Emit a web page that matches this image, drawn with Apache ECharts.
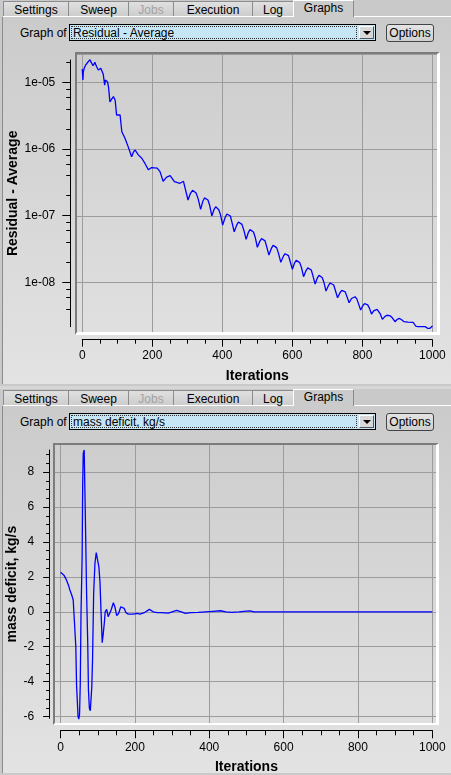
<!DOCTYPE html>
<html>
<head>
<meta charset="utf-8">
<script src="https://cdn.jsdelivr.net/npm/echarts@6/dist/echarts.min.js"></script>
<style>
  body { margin: 0; background: #d6d6d6; font-family: "Liberation Sans", Arial, sans-serif; font-size: 12px; color: #000; }
  #page { position: relative; width: 451px; height: 775px; overflow: hidden; }
  .panel { position: absolute; left: 0; width: 451px; height: 386px; background: #c9c9c9; }
  .body { position: absolute; left: 2px; top: 16px; right: 0; bottom: 2px; border-left: 1px solid #8c8c8c; border-top: 1px solid #fff;
          background: linear-gradient(#cbcbcb, #e3e3e3); }
  .tab { position: absolute; top: 1px; height: 15px; box-sizing: border-box; border: 1px solid #8c8c8c; border-bottom: none;
         background: linear-gradient(#e0e0e0, #cdcdcd); text-align: center; line-height: 16px; }
  .tab.dim { color: #a3a3a3; }
  .tab.sel { top: 0; height: 17px; background: #cbcbcb; line-height: 15px; border-color: #fff #8c8c8c #fff #fff; z-index: 2; }
  .lbl { position: absolute; left: 20px; top: 26px; }
  .combo { position: absolute; left: 69px; top: 24px; width: 307px; height: 17px; box-sizing: border-box; border: 1px solid #000;
           background: #c6e6f6; }
  .combo span { position: absolute; left: 3px; top: 1px; }
  .combo .focus { position: absolute; left: 1px; top: 1px; right: 18px; bottom: 1px; border: 1px dotted #333; }
  .arrow { position: absolute; right: 1px; top: 1px; width: 15px; height: 13px; box-sizing: border-box; background: #d8d8d8;
           border: 1px solid; border-color: #fff #555 #555 #fff; }
  .arrow:after { content: ""; position: absolute; left: 3px; top: 4px; border-left: 4px solid transparent; border-right: 4px solid transparent; border-top: 4px solid #000; }
  .btn { position: absolute; left: 386px; top: 24px; width: 48px; height: 18px; box-sizing: border-box; border: 1px solid #444;
         border-radius: 3px; background: linear-gradient(#e4e4e4, #cfcfcf); text-align: center; line-height: 16px; }
  .frame { position: absolute; box-sizing: border-box; border-style: solid; border-color: #7c7c7c #fff #fff #7c7c7c; z-index: 3; pointer-events: none; }
  #chart { position: absolute; left: 0; top: 0; width: 451px; height: 775px; z-index: 2; }
</style>
</head>
<body>
<div id="page">
  <div class="panel" style="top:0">
    <div class="body"></div>
    <div class="tab" style="left:3px;width:66px">Settings</div>
    <div class="tab" style="left:68px;width:61px">Sweep</div>
    <div class="tab dim" style="left:128px;width:46px">Jobs</div>
    <div class="tab" style="left:173px;width:80px">Execution</div>
    <div class="tab" style="left:252px;width:42px">Log</div>
    <div class="tab sel" style="left:293px;width:61px">Graphs</div>
    <div class="lbl">Graph of</div>
    <div class="combo"><div class="focus"></div><span>Residual - Average</span><div class="arrow"></div></div>
    <div class="btn">Options</div>
  </div>
  <div class="panel" style="top:389px">
    <div class="body"></div>
    <div class="tab" style="left:3px;width:66px">Settings</div>
    <div class="tab" style="left:68px;width:61px">Sweep</div>
    <div class="tab dim" style="left:128px;width:46px">Jobs</div>
    <div class="tab" style="left:173px;width:80px">Execution</div>
    <div class="tab" style="left:252px;width:42px">Log</div>
    <div class="tab sel" style="left:293px;width:61px">Graphs</div>
    <div class="lbl">Graph of</div>
    <div class="combo"><div class="focus"></div><span>mass deficit, kg/s</span><div class="arrow"></div></div>
    <div class="btn">Options</div>
  </div>
  <div id="chart"></div>
  <div class="frame" style="left:75px;top:52px;width:365px;height:283px;border-width:2px 3px 3px 2px"></div>
  <div class="frame" style="left:53px;top:443px;width:386px;height:282px;border-width:2px 3px 2px 2px"></div>
</div>

<script>
// residual - average (log axis)
const residualIter = [
  0, 2, 3, 6, 10, 17, 22, 27, 31, 36, 41, 46, 50, 53, 57, 60, 64, 66, 68, 72,
  75, 79, 84, 89, 94, 98, 103, 108, 113, 117, 122, 131, 141, 146, 151, 160, 170, 179, 189, 198,
  214, 222, 231, 241, 251, 263, 279, 289, 302,
  309, 315, 320, 325, 331, 338,
  344, 349, 354, 359, 364, 370,
  376, 381, 386, 390, 395, 401,
  408, 413, 418, 423, 427, 434,
  441, 446, 451, 456, 461, 468,
  474, 479, 484, 489, 494, 500,
  507, 512, 517, 522, 526, 533,
  540, 545, 550, 555, 560, 567,
  574, 579, 584, 589, 593, 600,
  606, 611, 616, 621, 626, 632,
  639, 644, 649, 654, 658, 665,
  671, 676, 681, 685, 690, 696,
  703, 708, 713, 718, 722, 729,
  736, 741, 746, 751, 755, 762,
  769, 774, 779, 784, 788, 795,
  801, 806, 811, 815, 820, 826,
  832, 837, 842, 846, 851, 857,
  864, 870, 875, 880, 886, 893,
  899, 905, 911, 919, 930, 945, 952, 958, 979, 986, 993, 997, 1000
];
const residualValue = [
  1.58e-5, 1.08e-5, 1.43e-5, 1.65e-5, 1.82e-5, 2.03e-5, 2.18e-5, 1.92e-5, 1.77e-5, 1.99e-5,
  1.71e-5, 1.53e-5, 1.50e-5, 1.62e-5, 1.44e-5, 1.32e-5, 9.1e-6, 1.08e-5, 1.15e-5, 1.02e-5,
  8.5e-6, 5.1e-6, 5.6e-6, 6.1e-6, 5.4e-6, 3.24e-6, 3.05e-6, 3.24e-6, 1.82e-6, 1.78e-6,
  1.45e-6, 1.09e-6, 7.7e-7, 9.0e-7, 9.7e-7, 8.2e-7, 7.3e-7, 6.1e-7, 4.9e-7, 5.3e-7,
  5.2e-7, 4.6e-7, 3.3e-7, 3.8e-7, 4.0e-7, 3.25e-7, 3.08e-7, 3.3e-7, 1.73e-7,
  2.18e-7, 2.42e-7, 2.44e-7, 2.20e-7, 1.80e-7, 1.25e-7,
  1.64e-7, 1.86e-7, 1.90e-7, 1.73e-7, 1.43e-7, 1.00e-7,
  1.24e-7, 1.37e-7, 1.37e-7, 1.24e-7, 1.03e-7, 7.31e-8,
  9.47e-8, 1.07e-7, 1.09e-7, 9.98e-8, 8.24e-8, 5.80e-8,
  7.28e-8, 8.09e-8, 8.19e-8, 7.47e-8, 6.22e-8, 4.46e-8,
  5.61e-8, 6.23e-8, 6.30e-8, 5.74e-8, 4.76e-8, 3.39e-8,
  4.17e-8, 4.58e-8, 4.62e-8, 4.23e-8, 3.56e-8, 2.60e-8,
  3.26e-8, 3.62e-8, 3.67e-8, 3.35e-8, 2.80e-8, 2.02e-8,
  2.48e-8, 2.72e-8, 2.75e-8, 2.54e-8, 2.15e-8, 1.59e-8,
  1.96e-8, 2.17e-8, 2.19e-8, 2.00e-8, 1.69e-8, 1.23e-8,
  1.52e-8, 1.67e-8, 1.69e-8, 1.55e-8, 1.31e-8, 9.56e-9,
  1.17e-8, 1.29e-8, 1.31e-8, 1.20e-8, 1.02e-8, 7.51e-9,
  9.08e-9, 9.91e-9, 1.00e-8, 9.24e-9, 7.91e-9, 5.96e-9,
  7.08e-9, 7.68e-9, 7.77e-9, 7.29e-9, 6.39e-9, 5.02e-9,
  5.80e-9, 6.18e-9, 6.17e-9, 5.73e-9, 4.99e-9, 3.90e-9,
  4.53e-9, 4.86e-9, 4.92e-9, 4.66e-9, 4.17e-9, 3.40e-9,
  3.80e-9, 4.00e-9, 4.00e-9, 3.78e-9, 3.41e-9, 2.83e-9,
  3.11e-9, 3.26e-9, 3.29e-9, 3.18e-9, 2.96e-9, 2.61e-9,
  2.81e-9, 2.93e-9, 2.81e-9, 2.61e-9, 2.58e-9, 2.55e-9, 2.25e-9, 2.20e-9, 2.20e-9, 2.08e-9, 2.08e-9, 2.21e-9, 2.25e-9
];
const residualTicks = [1e-8, 1e-7, 1e-6, 1e-5];
const residualTickLabels = ['1e-08', '1e-07', '1e-06', '1e-05'];
const residualMinorTicks = [4e-9, 6e-9, 8e-9, 2e-8, 4e-8, 6e-8, 8e-8, 2e-7, 4e-7, 6e-7, 8e-7,
  2e-6, 4e-6, 6e-6, 8e-6, 2e-5];

// mass deficit, kg/s
const massIter = [
  0, 5, 9, 15, 21, 25, 30, 34, 37, 41, 43, 47, 49, 51, 53, 55, 58, 59.5, 61, 63.5,
  66.5, 70, 73, 75, 77.5, 80, 82, 84, 86, 89, 92.5, 96, 100, 103, 106, 109, 112, 115, 118, 120,
  124, 128, 133, 136, 142, 146, 151, 156, 162, 166, 171, 176, 182, 196, 206, 214, 227, 239, 249, 260,
  270, 290, 300, 312, 325, 336, 350, 370, 390, 410, 430, 445, 460, 480, 500, 510, 520, 1000
];
const massValue = [
  2.26, 2.2, 2.1, 1.86, 1.54, 1.25, 0.96, 0.68, -0.47, -2.0, -4.2, -6.0, -6.15, -5.9, -4.1, -0.1, 3.16, 7.27, 9.08, 9.27,
  5.64, 1.06, -1.71, -4.48, -5.53, -5.67, -5.63, -4.29, -2.76, 1.06, 2.78, 3.39, 3.35, 2.58, 1.72, -0.09, -1.77, -1.23, -0.57, 0.0,
  0.14, -0.28, -0.28, 0.1, 0.52, 0.29, -0.22, -0.1, 0.29, 0.39, 0.2, -0.05, -0.13, -0.13, -0.09, -0.13, -0.03, 0.14, 0.0, -0.05,
  -0.05, -0.08, 0.0, 0.08, 0.0, -0.09, -0.05, -0.03, 0.0, 0.03, 0.06, 0.0, -0.03, 0.0, 0.04, 0.05, 0.0, 0.0
];
const massTicks = [-6, -4, -2, 0, 2, 4, 6, 8];
const massMinorTicks = [-5.5, -5, -4.5, -3.5, -3, -2.5, -1.5, -1, -0.5, 0.5, 1, 1.5, 2.5, 3, 3.5, 4.5, 5, 5.5, 6.5, 7, 7.5, 8.5, 9];
const iterTicks = [0, 200, 400, 600, 800, 1000];

const font = 'Liberation Sans';
const black = '#000';
const gridGray = '#9c9c9c';

const chart = echarts.init(document.getElementById('chart'));

function hiddenX (grid, min, max) {
  return {
    gridIndex: grid, type: 'value', min: min, max: max,
    axisLine: { show: false, onZero: false }, axisLabel: { show: false },
    axisTick: { show: false, customValues: iterTicks },
    splitLine: { show: true, lineStyle: { color: gridGray, width: 1 } }
  };
}
function visibleX (grid, offset, tickLen, minorLen, labelMargin, nameGap) {
  return {
    gridIndex: grid, type: 'value', position: 'bottom', min: 0, max: 1000, interval: 200, offset: offset,
    axisLine: { show: true, onZero: false, lineStyle: { color: black, width: 1 } },
    axisTick: { show: true, length: tickLen, lineStyle: { color: black } },
    minorTick: { show: true, splitNumber: 4, length: minorLen, lineStyle: { color: black } },
    axisLabel: {
      customValues: iterTicks, color: black, fontFamily: font, fontSize: 12, margin: labelMargin,
      formatter: v => String(v)
    },
    splitLine: { show: false },
    name: 'Iterations', nameLocation: 'middle', nameGap: nameGap, nameMoveOverlap: false,
    nameTextStyle: { color: black, fontFamily: font, fontSize: 14, fontWeight: 'bold' }
  };
}

chart.setOption({
  animation: false,
  grid: [
    { left: 77, top: 54, width: 360, height: 278, outerBoundsMode: 'none' },
    { left: 82.25, top: 60, width: 350.2, height: 266.7, outerBoundsMode: 'none' },
    { left: 55, top: 445, width: 381, height: 278, outerBoundsMode: 'none' },
    { left: 60.6, top: 450, width: 371.7, height: 268.3, outerBoundsMode: 'none' }
  ],
  xAxis: [
    hiddenX(0, -15, 1013),
    visibleX(1, 13, 7, 4, 10, 29),
    hiddenX(2, -15, 1010),
    visibleX(3, 12, 8, 5, 11, 30)
  ],
  yAxis: [
    {
      gridIndex: 0, type: 'log', logBase: 10, min: 1.83e-9, max: 2.653e-5,
      axisLine: { show: false, onZero: false }, axisLabel: { show: false }, axisTick: { show: false },
      splitLine: { show: true, lineStyle: { color: gridGray, width: 1 } }
    },
    {
      gridIndex: 1, type: 'value', position: 'left', min: -8.663, max: -4.666, offset: 12,
      axisLine: { show: true, onZero: false, lineStyle: { color: black } },
      axisTick: { show: true, length: 8, customValues: residualTicks.map(Math.log10), lineStyle: { color: black } },
      axisLabel: {
        customValues: residualTicks.map(Math.log10), color: black, fontFamily: font, fontSize: 12, margin: 15,
        formatter: function (v) {
          const i = residualTicks.findIndex(t => Math.abs(Math.log10(t) - v) < 1e-6);
          return i >= 0 ? residualTickLabels[i] : '';
        }
      },
      splitLine: { show: false },
      name: 'Residual - Average', nameLocation: 'middle', nameGap: 50, nameMoveOverlap: false,
      nameTextStyle: { color: black, fontFamily: font, fontSize: 14, fontWeight: 'bold' }
    },
    {
      gridIndex: 1, type: 'value', position: 'left', min: -8.663, max: -4.666, offset: 12,
      axisLine: { show: false, onZero: false },
      axisTick: { show: true, length: 4, customValues: residualMinorTicks.map(Math.log10), lineStyle: { color: black } },
      axisLabel: { show: false }, splitLine: { show: false }
    },
    {
      gridIndex: 2, type: 'value', min: -6.372, max: 9.559,
      axisLine: { show: false, onZero: false }, axisLabel: { show: false },
      axisTick: { show: false, customValues: massTicks },
      splitLine: { show: true, lineStyle: { color: gridGray, width: 1 } }
    },
    {
      gridIndex: 3, type: 'value', position: 'left', min: -6.1, max: 9.27, offset: 11.5,
      axisLine: { show: true, onZero: false, lineStyle: { color: black } },
      axisTick: { show: true, length: 6, customValues: massTicks, lineStyle: { color: black } },
      axisLabel: { customValues: massTicks, color: black, fontFamily: font, fontSize: 12, margin: 15 },
      splitLine: { show: false },
      name: 'mass deficit, kg/s', nameLocation: 'middle', nameGap: 30, nameMoveOverlap: false,
      nameTextStyle: { color: black, fontFamily: font, fontSize: 14, fontWeight: 'bold' }
    },
    {
      gridIndex: 3, type: 'value', position: 'left', min: -6.1, max: 9.27, offset: 11.5,
      axisLine: { show: false, onZero: false },
      axisTick: { show: true, length: 3, customValues: massMinorTicks, lineStyle: { color: black } },
      axisLabel: { show: false }, splitLine: { show: false }
    }
  ],
  series: [
    {
      type: 'line', xAxisIndex: 0, yAxisIndex: 0, showSymbol: false, symbol: 'none',
      lineStyle: { color: '#0000ff', width: 1.3 },
      data: residualIter.map((x, i) => [x, residualValue[i]])
    },
    {
      type: 'line', xAxisIndex: 2, yAxisIndex: 3, showSymbol: false, symbol: 'none',
      lineStyle: { color: '#0000ff', width: 1.3 },
      data: massIter.map((x, i) => [x, massValue[i]])
    }
  ]
});
</script>
</body>
</html>
